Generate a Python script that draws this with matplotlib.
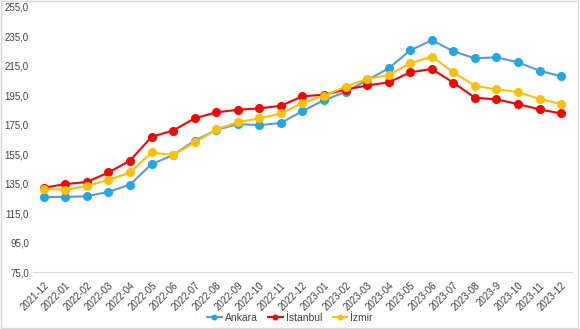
import matplotlib
matplotlib.use('Agg')
import matplotlib.pyplot as plt
from matplotlib.patches import Rectangle
from matplotlib.ticker import FuncFormatter

plt.rcParams['font.family'] = ['Liberation Sans', 'DejaVu Sans']

months = ['2021-12', '2022-01', '2022-02', '2022-03', '2022-04', '2022-05',
          '2022-06', '2022-07', '2022-08', '2022-09', '2022-10', '2022-11',
          '2022-12', '2023-01', '2023-02', '2023-03', '2023-04', '2023-05',
          '2023-06', '2023-07', '2023-08', '2023-9', '2023-10', '2023-11',
          '2023-12']

ankara = [126.0, 126.0, 126.5, 129.4, 134.4, 148.3, 154.4, 164.2, 171.5,
          175.4, 174.8, 176.2, 184.3, 191.7, 197.3, 205.3, 213.3, 225.5,
          232.4, 224.9, 220.1, 220.8, 217.4, 211.7, 207.9]
istanbul = [132.3, 134.7, 136.2, 142.6, 150.7, 166.8, 171.1, 179.4, 183.4,
            185.2, 186.1, 187.9, 194.3, 195.4, 198.8, 201.7, 203.8, 210.6,
            212.9, 203.6, 193.4, 192.2, 189.1, 185.4, 182.7]
izmir = [131.5, 130.8, 133.5, 137.6, 142.6, 156.2, 154.4, 163.0, 171.8,
         176.8, 179.3, 182.7, 189.8, 194.7, 200.9, 206.1, 208.8, 216.7,
         221.3, 210.6, 201.5, 199.0, 197.3, 192.5, 189.1]

yticks = [75, 95, 115, 135, 155, 175, 195, 215, 235, 255]

series = [('Ankara', ankara, '#5B9BD5', '#1EA8E6'),
          ('İstanbul', istanbul, '#FF0000', '#FF0000'),
          ('İzmir', izmir, '#FFC000', '#FFC000')]

fig = plt.figure(figsize=(5.8, 3.29), dpi=100)
ax = fig.add_axes([0.057, 0.173, 0.929, 0.806])

x = list(range(len(months)))
for name, vals, lc, mc in series:
    ax.plot(x, vals, color=lc, lw=1.5, marker='o', markersize=5.5,
            markerfacecolor=mc, markeredgecolor=mc, label=name)

ax.set_xlim(-0.5, len(months) - 0.5)
ax.set_ylim(75, 255)
ax.set_yticks(yticks)
ax.yaxis.set_major_formatter(FuncFormatter(lambda v, p: f'{v:.1f}'.replace('.', ',')))
ax.set_xticks(x)
ax.set_xticklabels(months, rotation=45, ha='right', rotation_mode='anchor')
ax.tick_params(axis='both', length=0, labelsize=7, colors='#404040', pad=3)
ax.tick_params(axis='x', pad=6)

for pos in ['top', 'right', 'left']:
    ax.spines[pos].set_visible(False)
ax.spines['bottom'].set_color('#D9D9D9')

leg = fig.legend(loc='lower center', bbox_to_anchor=(0.5, -0.01), ncol=3,
                 frameon=False, fontsize=7.5, handlelength=1.4, markerscale=0.6,
                 columnspacing=1.0, handletextpad=0.3, labelcolor='#404040')

# chart border
fig.patches.append(Rectangle((0.002, 0.003), 0.995, 0.994, transform=fig.transFigure,
                             fill=False, edgecolor='#D9D9D9', lw=1))

plt.savefig('out.png', dpi=100)
